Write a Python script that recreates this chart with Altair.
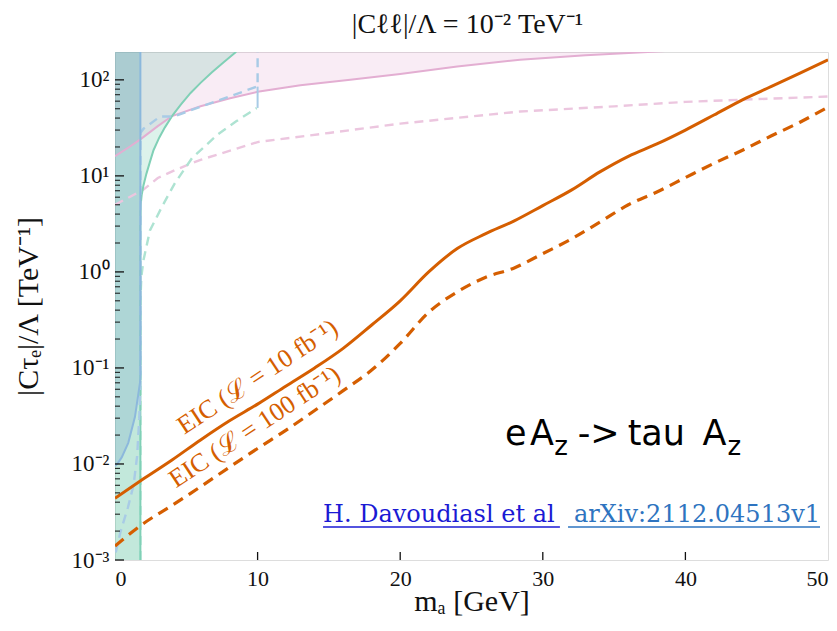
import altair as alt
import pandas as pd

# ---------------- data ----------------
X_MAX = 50
Y_MIN, Y_MAX = 1e-3, 195
M_TAU = 1.777

# EIC projections
eic_x = [0, 2, 4, 6, 8, 10, 12, 14, 16, 18, 20, 22, 24, 26, 28, 30, 32, 34, 36, 38, 40, 42, 44, 46, 48, 50]
eic10_y = [0.0044, 0.0070, 0.0110, 0.0178, 0.028, 0.042, 0.065, 0.10, 0.16, 0.28, 0.50, 1.0, 1.75, 2.5,
           3.4, 4.9, 7.1, 11.0, 16.0, 21.5, 30, 43, 62, 85, 117, 162]
eic100_y = [0.0014, 0.0024, 0.0037, 0.0058, 0.0092, 0.0145, 0.0225, 0.036, 0.058, 0.095, 0.18, 0.38, 0.62,
            0.88, 1.10, 1.55, 2.2, 3.3, 5.0, 6.8, 9.6, 13.5, 18.5, 26, 36, 52]

# green bound (solid / dashed)
gs_x = [1.78, 1.78, 1.80, 1.87, 2.0, 2.2, 2.45, 2.7, 3.1, 3.5, 4.05, 4.6, 5.3, 6.0, 6.8, 7.6, 8.5]
gs_y = [0.001, 3.0, 5.0, 6.3, 8.0, 10.5, 14, 18.5, 25, 32, 43, 55, 73, 93, 120, 152, 196]
gd_x = [1.78, 1.78, 1.85, 2.0, 2.45, 3.3, 4.2, 5.4, 7.2, 8.5, 9.94]
gd_y = [0.001, 0.5, 0.9, 1.33, 2.7, 4.8, 8.4, 15.3, 27, 37, 51]

# blue bound (solid / dashed)
bs_x = [1.78, 1.78, 1.75, 1.40, 0.93, 0.47, 0.2, 0.0]
bs_y = [196, 0.08, 0.07, 0.031, 0.0166, 0.0117, 0.0102, 0.0095]
bs2_x = [10.0, 10.0]
bs2_y = [51, 85]
bd_x = [0.05, 0.4, 0.9, 1.3, 1.55, 1.7, 1.78, 1.78, 2.0, 3.16, 4.1, 9.95, 10.0, 10.0]
bd_y = [0.0012, 0.002, 0.0035, 0.006, 0.012, 0.03, 0.07, 28, 31, 41.5, 41.5, 85, 85, 196]

# pink bound (solid / dashed)
ps_x = [0, 1, 1.78, 3, 4, 6, 8, 10, 13, 16.5, 20, 24, 28.4, 33, 37.7, 42]
ps_y = [16, 20, 24, 33, 42, 53, 64, 75, 88, 100, 115, 138, 162, 180, 196, 215]
pd_x = [0, 1, 2, 3, 4.2, 6, 10, 15, 20, 28.4, 35, 40, 45, 50]
pd_y = [5.0, 6.0, 7.2, 9.5, 11.5, 14.7, 22.5, 28, 35, 46.8, 53, 59, 63, 67]

# tick values
major_y = [1e-3, 1e-2, 1e-1, 1e0, 1e1, 1e2]
minor_y = [k * m for m in major_y for k in range(2, 10) if k * m <= Y_MAX]
x_ticks = [0, 10, 20, 30, 40, 50]

# annotations
title_text = "|Cℓℓ|/Λ = 10⁻² TeV⁻¹"
eic_lab_text = ["EIC (ℒ = 10 fb⁻¹)", "EIC (ℒ = 100 fb⁻¹)"]
eic_lab_x = [10.0, 9.8]
eic_lab_y = [0.0806, 0.0243]

proc_text = ["e", "A", "z", "->", "tau", "A", "z"]
proc_x = [27.35, 29.1, 30.8, 32.45, 35.95, 41.2, 42.95]
proc_y = [0.0158, 0.0158, 0.0124, 0.0158, 0.0158, 0.0158, 0.0124]
proc_sub = [False, False, True, False, False, False, True]

cite1_text, cite2_text = "H. Davoudiasl et al", "arXiv:2112.04513v1"
cite1_x, cite2_x, cite_y = 14.59, 49.44, 0.00249
ul1_x, ul2_x, ul_y = [14.59, 31.2], [31.77, 49.44], 0.00221

# ---------------- helpers ----------------
W, H = 713, 508
SERIF = "Liberation Serif"
ORANGE = "#d55e00"

xs = alt.Scale(domain=[0, X_MAX], nice=False, zero=False)
ys = alt.Scale(type="log", domain=[Y_MIN, Y_MAX], nice=False)

AX_X = alt.Axis(values=x_ticks, ticks=False, tickSize=0, domain=False, grid=False,
                labelFontSize=22, labelPadding=8, labelFont=SERIF, labelColor="#111",
                titleFont=SERIF, titleFontSize=30, titleFontWeight="normal", titleColor="#111",
                titleBaseline="alphabetic", titleY=50)
AX_Y = alt.Axis(values=major_y, ticks=False, tickSize=0, domain=False, grid=False,
                labelExpr="'10' + ['⁻³','⁻²','⁻¹','⁰','¹','²'][round(log(datum.value)/LN10)+3]",
                labelFontSize=23, labelPadding=6, labelFont=SERIF, labelColor="#111",
                titleFont=SERIF, titleFontSize=30, titleFontWeight="normal", titleColor="#111",
                titleBaseline="alphabetic", titleX=-78, titleY=H / 2, titleAngle=270)
X_TITLE = "mₐ [GeV]"
Y_TITLE = "|Cτₑ|/Λ [TeV⁻¹]"


def path_df(xv, yv):
    return pd.DataFrame({"x": xv, "y": yv, "i": list(range(len(xv)))})


def X():
    return alt.X("x:Q", scale=xs, axis=AX_X, title=X_TITLE)


def Y():
    return alt.Y("y:Q", scale=ys, axis=AX_Y, title=Y_TITLE)


def path(xv, yv, color, width=2.0, dash=None, interp="linear"):
    kw = dict(color=color, strokeWidth=width, clip=True, interpolate=interp)
    if dash:
        kw["strokeDash"] = dash
    return alt.Chart(path_df(xv, yv)).mark_line(**kw).encode(
        x=X(), y=Y(), order=alt.Order("i:Q"))


# ---------------- fills ----------------
pink_fill = alt.Chart(path_df(ps_x, ps_y)).mark_area(color="#d98cc6", opacity=0.17, clip=True).encode(
    x=X(), y=Y(), y2=alt.datum(Y_MAX))

green_fill = alt.Chart(path_df(gs_x, gs_y)).mark_area(
    orient="horizontal", color="#66c2a5", opacity=0.22, clip=True).encode(
    y=Y(), x=X(), x2=alt.datum(0))

strip_fill = alt.Chart(path_df([M_TAU, M_TAU], [Y_MIN, Y_MAX])).mark_area(
    orient="horizontal", color="#66c2a5", opacity=0.22, clip=True).encode(
    y=Y(), x=X(), x2=alt.datum(0))

blue_fill_df = path_df(bs_x, bs_y).sort_values("y")
blue_fill = alt.Chart(blue_fill_df).mark_area(
    orient="horizontal", color="#4a7fc0", opacity=0.16, clip=True).encode(
    y=Y(), x=X(), x2=alt.datum(0))

# ---------------- bound lines ----------------
lines = [
    path(pd_x, pd_y, "#ecc6df", 2.4, [9, 6]),
    path(ps_x, ps_y, "#e3aed2", 2.0),
    path(gd_x, gd_y, "#aee3d2", 2.4, [9, 6]),
    path(gs_x, gs_y, "#80d0b6", 2.0),
    path(bd_x, bd_y, "#a8cbe6", 2.4, [9, 6]),
    path(bs_x, bs_y, "#8cb8dc", 2.0),
    path(bs2_x, bs2_y, "#a8cbe6", 2.0),
]

eic10 = path(eic_x, eic10_y, ORANGE, 3.0, interp="monotone")
eic100 = path(eic_x, eic100_y, ORANGE, 3.2, [11, 7], interp="monotone")

# ---------------- ticks ----------------
tick_major = alt.Chart(pd.DataFrame({"y": major_y})).mark_rule(color="#111", strokeWidth=1.3).encode(
    y=Y(), x=alt.value(0), x2=alt.value(9))
tick_minor = alt.Chart(pd.DataFrame({"y": minor_y})).mark_rule(color="#111", strokeWidth=1.0).encode(
    y=Y(), x=alt.value(0), x2=alt.value(5))
tick_x = alt.Chart(pd.DataFrame({"x": x_ticks[1:-1]})).mark_rule(color="#111", strokeWidth=1.3).encode(
    x=X(), y=alt.value(H), y2=alt.value(H - 8))

# ---------------- texts ----------------
title = alt.Chart(pd.DataFrame({"t": [title_text]})).mark_text(
    font=SERIF, fontSize=28, color="#111", align="center", baseline="alphabetic").encode(
    x=alt.value(W / 2 - 4), y=alt.value(-19), text="t:N")

eic_labels = alt.Chart(pd.DataFrame({"x": eic_lab_x, "y": eic_lab_y, "t": eic_lab_text})).mark_text(
    font=SERIF, fontSize=26, color=ORANGE, angle=326.5, align="center", baseline="middle").encode(
    x=X(), y=Y(), text="t:N")

proc_df = pd.DataFrame({"x": proc_x, "y": proc_y, "t": proc_text, "sub": proc_sub})
proc_main = alt.Chart(proc_df[~proc_df["sub"]]).mark_text(
    font="DejaVu Sans", fontSize=35, color="#000", align="left", baseline="alphabetic").encode(
    x=X(), y=Y(), text="t:N")
proc_subs = alt.Chart(proc_df[proc_df["sub"]]).mark_text(
    font="DejaVu Sans", fontSize=26, color="#000", align="left", baseline="alphabetic").encode(
    x=X(), y=Y(), text="t:N")

cite1 = alt.Chart(pd.DataFrame({"x": [cite1_x], "y": [cite_y], "t": [cite1_text]})).mark_text(
    font="DejaVu Serif", fontSize=24, color="#1a1ad4", align="left", baseline="alphabetic").encode(
    x=X(), y=Y(), text="t:N")
cite2 = alt.Chart(pd.DataFrame({"x": [cite2_x], "y": [cite_y], "t": [cite2_text]})).mark_text(
    font="DejaVu Serif", fontSize=24, color="#2e74c0", align="right", baseline="alphabetic").encode(
    x=X(), y=Y(), text="t:N")
ul1 = alt.Chart(pd.DataFrame({"x": [ul1_x[0]], "x2": [ul1_x[1]], "y": [ul_y]})).mark_rule(
    color="#1a1ad4", strokeWidth=1.5).encode(x=X(), x2="x2:Q", y=Y())
ul2 = alt.Chart(pd.DataFrame({"x": [ul2_x[0]], "x2": [ul2_x[1]], "y": [ul_y]})).mark_rule(
    color="#2e74c0", strokeWidth=1.5).encode(x=X(), x2="x2:Q", y=Y())

chart = alt.layer(
    pink_fill, green_fill, strip_fill, blue_fill,
    *lines,
    eic100, eic10,
    eic_labels, proc_main, proc_subs, cite1, cite2, ul1, ul2,
    tick_minor, tick_major, tick_x, title,
).properties(
    width=W, height=H,
    autosize=alt.AutoSizeParams(type="none"),
    padding={"left": 115, "top": 52, "right": 9, "bottom": 71},
).configure_view(stroke="#222", strokeWidth=1.6).configure(background="white")

chart.save("out.html", embed_options={"renderer": "svg", "actions": False})
